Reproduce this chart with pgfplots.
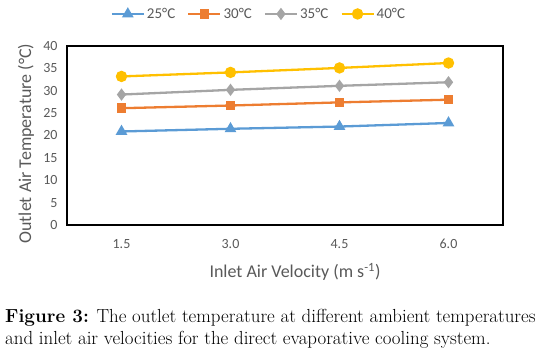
\documentclass[border=0pt]{standalone}
\usepackage{fontspec}
\setmainfont{Carlito}
\newfontfamily\capfont{Latin Modern Roman}
\usepackage{pgfplots}
\pgfplotsset{compat=1.18}
\definecolor{cblue}{HTML}{5B9BD5}
\definecolor{corange}{HTML}{ED7D31}
\definecolor{cgray}{HTML}{A5A5A5}
\definecolor{cyellow}{HTML}{FFC000}
\definecolor{txtgray}{HTML}{595959}
\begin{document}
\begin{tikzpicture}[x=1pt,y=1pt]
\useasboundingbox (0,0) rectangle (541,354);
\begin{axis}[
  at={(67pt,129pt)}, anchor=south west,
  scale only axis, width=436pt, height=179pt,
  xmin=0.5, xmax=4.5, ymin=0, ymax=40,
  xtick={1,2,3,4}, xticklabels={1.5,3.0,4.5,6.0},
  ytick={0,5,...,40},
  major tick length=0pt,
  axis line style={black, line width=1.1pt},
  /pgf/number format/assume math mode=true,
  ticklabel style={font=\fontsize{14}{16}\selectfont, text=txtgray},
  yticklabel style={xshift=-6pt},
  xticklabel style={yshift=-11pt},
  legend style={at={(0.44,1.179)}, anchor=center, draw=none, fill=none,
    legend columns=4, font=\fontsize{15}{17}\selectfont, text=txtgray,
    /tikz/every even column/.append style={column sep=10pt},
    inner sep=0pt, cells={anchor=west}},
  legend image code/.code={
    \draw[mark repeat=2,mark phase=2] plot coordinates {(0pt,0pt) (16pt,0pt) (32pt,0pt)};},
  every axis plot/.append style={line width=2.3pt, mark options={solid}},
]
\addplot[cblue, mark=triangle*, mark size=4.5pt] coordinates {(1,20.9) (2,21.5) (3,22.0) (4,22.8)};
\addlegendentry{25°C}
\addplot[corange, mark=square*, mark size=3.6pt] coordinates {(1,26.1) (2,26.7) (3,27.4) (4,28.0)};
\addlegendentry{30°C}
\addplot[cgray, mark=diamond*, mark size=4.3pt] coordinates {(1,29.15) (2,30.2) (3,31.1) (4,31.9)};
\addlegendentry{35°C}
\addplot[cyellow, mark=*, mark size=4.5pt] coordinates {(1,33.2) (2,34.1) (3,35.1) (4,36.2)};
\addlegendentry{40°C}
\end{axis}
\node[text=txtgray, font=\fontsize{18}{20}\selectfont, rotate=90, anchor=center] at (26,210.5) {Outlet Air Temperature (°C)};
\node[text=txtgray, font=\fontsize{18}{20}\selectfont, anchor=center] at (295,82) {Inlet Air Velocity (m s\textsuperscript{-1})};
\node[font=\capfont\fontsize{18.9}{21}\selectfont, anchor=base west, inner sep=0pt] at (5,32) {\textbf{Figure 3:} The outlet temperature at different ambient temperatures};
\node[font=\capfont\fontsize{18.9}{21}\selectfont, anchor=base west, inner sep=0pt] at (5,10) {and inlet air velocities for the direct evaporative cooling system.};
\end{tikzpicture}
\end{document}
